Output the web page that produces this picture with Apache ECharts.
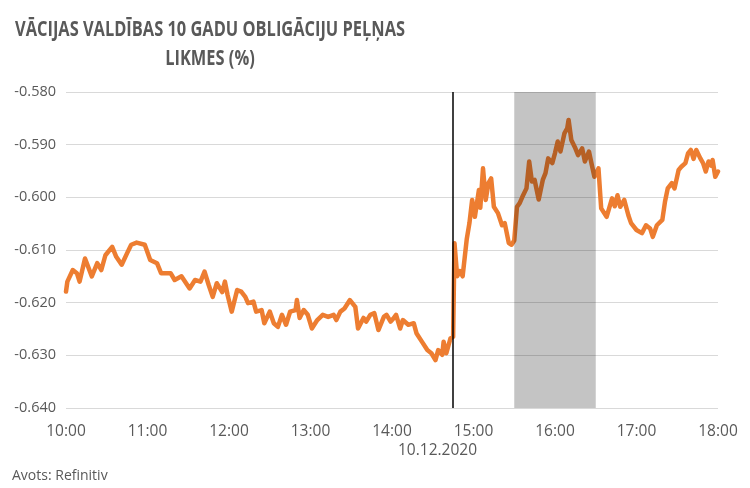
<!DOCTYPE html>
<html>
<head>
<meta charset="utf-8">
<script src="https://cdn.jsdelivr.net/npm/echarts@6/dist/echarts.min.js"></script>
<style>
html,body{margin:0;padding:0;background:#fff;}
#c{width:750px;height:488px;}
</style>
</head>
<body>
<div id="c"></div>
<script>
// ---- data ----
const titleLines = ["VĀCIJAS VALDĪBAS 10 GADU OBLIGĀCIJU PEĻŅAS", "LIKMES (%)"];
const dateLabel = "10.12.2020";
const sourceLabel = "Avots: Refinitiv";
const xTicks = ["10:00","11:00","12:00","13:00","14:00","15:00","16:00","17:00","18:00"];
const yTicks = [-0.640,-0.630,-0.620,-0.610,-0.600,-0.590,-0.580];
const eventTime = "14:45";
const bandStart = "15:30";
const bandEnd = "16:30";
const times = [
"10:00","10:01","10:05","10:08","10:10","10:14","10:19","10:23","10:26","10:29","10:34","10:37","10:41","10:45","10:48","10:52","10:58",
"11:02","11:07","11:10","11:17","11:20","11:25","11:31","11:35","11:39","11:42","11:45","11:48","11:51","11:55","11:57","11:59",
"12:02","12:06","12:09","12:12","12:14","12:18","12:20","12:24","12:26","12:30","12:33","12:36","12:39","12:42","12:45","12:49","12:50","12:52","12:55","12:58",
"13:01","13:05","13:09","13:13","13:17","13:19","13:22","13:25","13:29","13:33","13:35","13:39","13:41","13:44","13:47","13:50","13:54","13:56","13:59",
"14:01","14:03","14:06","14:08","14:12","14:16","14:18","14:22","14:26","14:29","14:32","14:34","14:37","14:38","14:40","14:43","14:45","14:46","14:48","14:50","14:52","14:55","14:57","14:59",
"15:01","15:04","15:05","15:07","15:09","15:11","15:13","15:15","15:18","15:21","15:23","15:26","15:28","15:30","15:32","15:34","15:36","15:39","15:41","15:43","15:45","15:48","15:51","15:53","15:55","15:58",
"16:00","16:02","16:04","16:07","16:09","16:10","16:12","16:15","16:17","16:20","16:22","16:25","16:27","16:29","16:32","16:34","16:38","16:42","16:44","16:46","16:48","16:51","16:54","16:56",
"17:00","17:04","17:07","17:10","17:12","17:15","17:19","17:21","17:23","17:26","17:28","17:31","17:33","17:36","17:38","17:40","17:42","17:44","17:47","17:49","17:51","17:53","17:55","17:56","17:58","18:00"
];
const yields = [
-0.6179,-0.6160,-0.6138,-0.6144,-0.6160,-0.6116,-0.6150,-0.6125,-0.6138,-0.6110,-0.6094,-0.6113,-0.6128,-0.6106,-0.6090,-0.6086,-0.6090,
-0.6119,-0.6125,-0.6144,-0.6144,-0.6157,-0.6150,-0.6173,-0.6157,-0.6160,-0.6141,-0.6166,-0.6189,-0.6163,-0.6180,-0.6160,-0.6186,
-0.6217,-0.6176,-0.6179,-0.6189,-0.6201,-0.6198,-0.6217,-0.6214,-0.6239,-0.6217,-0.6239,-0.6246,-0.6223,-0.6242,-0.6217,-0.6214,-0.6195,-0.6229,-0.6214,-0.6223,
-0.6249,-0.6233,-0.6223,-0.6227,-0.6223,-0.6233,-0.6217,-0.6211,-0.6195,-0.6208,-0.6249,-0.6229,-0.6236,-0.6223,-0.6220,-0.6252,-0.6227,-0.6223,-0.6236,
-0.6230,-0.6223,-0.6249,-0.6233,-0.6242,-0.6239,-0.6258,-0.6274,-0.6290,-0.6296,-0.6309,-0.6290,-0.6299,-0.6274,-0.6296,-0.6268,-0.6265,-0.6087,-0.6150,-0.6140,-0.6150,-0.6080,-0.6049,-0.6005,
-0.6037,-0.5986,-0.6020,-0.5945,-0.6005,-0.5973,-0.5964,-0.6018,-0.6030,-0.6053,-0.6049,-0.6087,-0.6090,-0.6082,-0.6018,-0.6011,-0.5999,-0.5983,-0.5932,-0.5970,-0.5967,-0.6004,-0.5967,-0.5954,-0.5926,-0.5935,
-0.5916,-0.5894,-0.5913,-0.5878,-0.5869,-0.5853,-0.5891,-0.5907,-0.5920,-0.5907,-0.5932,-0.5913,-0.5937,-0.5961,-0.5945,-0.6021,-0.6037,-0.6002,-0.6017,-0.5996,-0.6018,-0.6005,-0.6034,-0.6049,
-0.6062,-0.6068,-0.6053,-0.6059,-0.6075,-0.6053,-0.6043,-0.6008,-0.5983,-0.5973,-0.5983,-0.5948,-0.5942,-0.5935,-0.5916,-0.5910,-0.5927,-0.5910,-0.5926,-0.5935,-0.5951,-0.5932,-0.5940,-0.5929,-0.5961,-0.5951
];

// ---- helpers ----
function toMin(t){const p=t.split(':');return (+p[0])*60+(+p[1]);}
function fmtMin(m){const h=Math.floor(m/60), mm=Math.round(m%60);return h+':'+(mm<10?'0':'')+mm;}
const seriesData = times.map((t,i)=>[toMin(t), yields[i]]);
const txt = '#595959';
const fontFam = '"Open Sans",Lato,sans-serif';
const titleFont = 'bold 22px "Open Sans",Lato,sans-serif';

// scale title horizontally so that line 1 spans ~390px like the reference
const cv = document.createElement('canvas').getContext('2d');
cv.font = titleFont;
const titleW = cv.measureText(titleLines[0]).width;
const titleScale = 390 / titleW;

const chart = echarts.init(document.getElementById('c'), null, {renderer:'canvas'});
chart.setOption({
  animation:false,
  backgroundColor:'#ffffff',
  grid:{left:66, right:32, top:92, bottom:80, containLabel:false},
  xAxis:{
    type:'value', min:toMin(xTicks[0]), max:toMin(xTicks[xTicks.length-1]), interval:60,
    axisLine:{show:false}, axisTick:{show:false},
    splitLine:{show:false},
    axisLabel:{color:txt, fontFamily:fontFam, fontSize:15.5, margin:16, formatter:v=>fmtMin(v)}
  },
  yAxis:{
    type:'value', min:yTicks[0], max:yTicks[yTicks.length-1], interval:0.01,
    axisLine:{show:false}, axisTick:{show:false},
    splitLine:{lineStyle:{color:'#d9d9d9', width:1}},
    axisLabel:{color:txt, fontFamily:fontFam, fontSize:14.5, margin:10, formatter:v=>v.toFixed(3)}
  },
  series:[
    {
      type:'line', data:seriesData, showSymbol:false, smooth:false, z:2,
      lineStyle:{color:'#ED7D31', width:4.5, join:'round', cap:'round'}
    },
    {
      type:'line', data:[], z:5, silent:true,
      markArea:{silent:true, z:10, itemStyle:{color:'rgba(0,0,0,0.23)'},
        data:[[{xAxis:toMin(bandStart), yAxis:yTicks[yTicks.length-1]},{xAxis:toMin(bandEnd), yAxis:yTicks[0]}]]}
    },
    {
      type:'line', data:[], z:6, silent:true,
      markLine:{silent:true, z:11, symbol:['none','none'], label:{show:false},
        lineStyle:{color:'rgba(0,0,0,0.75)', width:2, type:'solid'},
        data:[[{coord:[toMin(eventTime), yTicks[0]]},{coord:[toMin(eventTime), yTicks[yTicks.length-1]]}]]}
    }
  ],
  graphic:[
    {type:'text', x:210, y:19, scaleX:titleScale, scaleY:1,
      style:{text:titleLines[0], fill:txt, font:titleFont, align:'center', verticalAlign:'top'}},
    {type:'text', x:210, y:48, scaleX:titleScale, scaleY:1,
      style:{text:titleLines[1], fill:txt, font:titleFont, align:'center', verticalAlign:'top'}},
    {type:'text', left:398, top:443, style:{text:dateLabel, fill:txt, font:'15.5px '+fontFam}},
    {type:'text', left:12, top:469, style:{text:sourceLabel, fill:txt, font:'14px '+fontFam}}
  ]
});
</script>
</body>
</html>
